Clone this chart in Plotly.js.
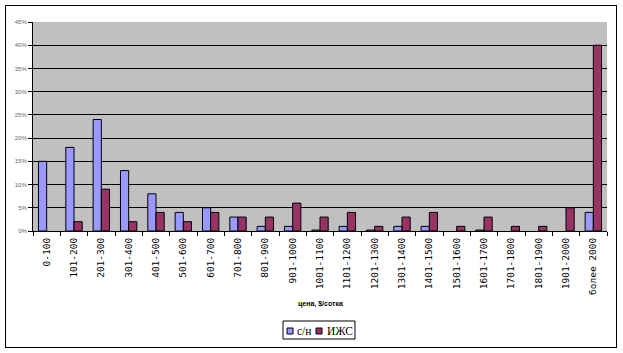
<!DOCTYPE html>
<html><head><meta charset="utf-8">
<script src="https://cdn.plot.ly/plotly-3.0.1.min.js"></script>
<style>body{margin:0;background:#fff}#frame{position:absolute;left:5px;top:5px;width:610px;height:341px;border:1px solid #000;pointer-events:none}#chart{width:623px;height:353px}</style>
</head><body>
<div id="chart"></div><div id="frame"></div>
<script>
const categories = ["0-100","101-200","201-300","301-400","401-500","501-600","601-700","701-800","801-900","901-1000","1001-1100","1101-1200","1201-1300","1301-1400","1401-1500","1501-1600","1601-1700","1701-1800","1801-1900","1901-2000","более 2000"];
const snValues  = [15,18,24,13,8,4,5,3,1,1,0.2,1,0.2,1,1,0,0.2,0,0,0,4];
const izhsValues = [0,2,9,2,4,2,4,3,3,6,3,4,1,3,4,1,3,1,1,5,40];
const seriesNames = ["с/н","ИЖС"];
const seriesColors = ['#9999FF','#993366'];
const yTicks = [0,5,10,15,20,25,30,35,40,45];

const L = 33, T = 22, W = 574, H = 209;
const px = x => (x - L) / W;
const py = y => (T + H - y) / H;

const traces = [snValues, izhsValues].map((vals, i) => ({
  type:'bar', name:seriesNames[i], x:categories, y:vals.map(v=>v/100),
  marker:{color:seriesColors[i], line:{color:'#000', width:vals.map(v => v === 0 ? 0 : 1)}}
}));
const legFont = {family:'Liberation Serif, serif', size:11.5, color:'#000'};
const layout = {
  width:623, height:353,
  margin:{l:L, r:623-L-W, t:T, b:353-T-H, autoexpand:false},
  paper_bgcolor:'#fff', plot_bgcolor:'#C0C0C0',
  barmode:'group', bargap:0.4, bargroupgap:0,
  showlegend:false,
  xaxis:{type:'category', automargin:false, tickangle:-90, ticks:'outside', ticklen:4, tickcolor:'#000',
    tickson:'boundaries', showline:true, linecolor:'#000', linewidth:1, ticklabelstandoff:2,
    tickfont:{family:'DejaVu Sans Mono, monospace', size:9.5, color:'#000'}, fixedrange:true},
  yaxis:{automargin:false, range:[0,0.45], tickvals:yTicks.map(v=>v/100), ticktext:yTicks.map(v=>v+'%'),
    ticks:'outside', ticklen:4, tickcolor:'#000', showline:true, linecolor:'#000', linewidth:1,
    showgrid:true, gridcolor:'#000', gridwidth:1, zeroline:false,
    tickfont:{family:'Liberation Sans, Arial', size:6, color:'#666'}, fixedrange:true},
  shapes:[
    {type:'rect', xref:'paper', yref:'paper', x0:px(283), x1:px(355), y0:py(321), y1:py(339), line:{color:'#000', width:1}, fillcolor:'#fff', layer:'above'},
    {type:'rect', xref:'paper', yref:'paper', x0:px(287), x1:px(293), y0:py(328), y1:py(334), line:{color:'#000', width:1}, fillcolor:seriesColors[0], layer:'above'},
    {type:'rect', xref:'paper', yref:'paper', x0:px(316), x1:px(322), y0:py(328), y1:py(334), line:{color:'#000', width:1}, fillcolor:seriesColors[1], layer:'above'}
  ],
  annotations:[
    {text:'<b>цена, $/сотка</b>', xref:'paper', yref:'paper', x:0.5, y:py(304), yanchor:'middle',
     showarrow:false, font:{family:'Liberation Sans, Arial', size:7, color:'#000'}},
    {text:seriesNames[0], xref:'paper', yref:'paper', x:px(295), y:py(331), xanchor:'left', yanchor:'middle', showarrow:false, font:legFont},
    {text:seriesNames[1], xref:'paper', yref:'paper', x:px(325), y:py(331), xanchor:'left', yanchor:'middle', showarrow:false, font:legFont}
  ]
};
Plotly.newPlot('chart', traces, layout, {displayModeBar:false, staticPlot:true});
</script>
</body></html>
